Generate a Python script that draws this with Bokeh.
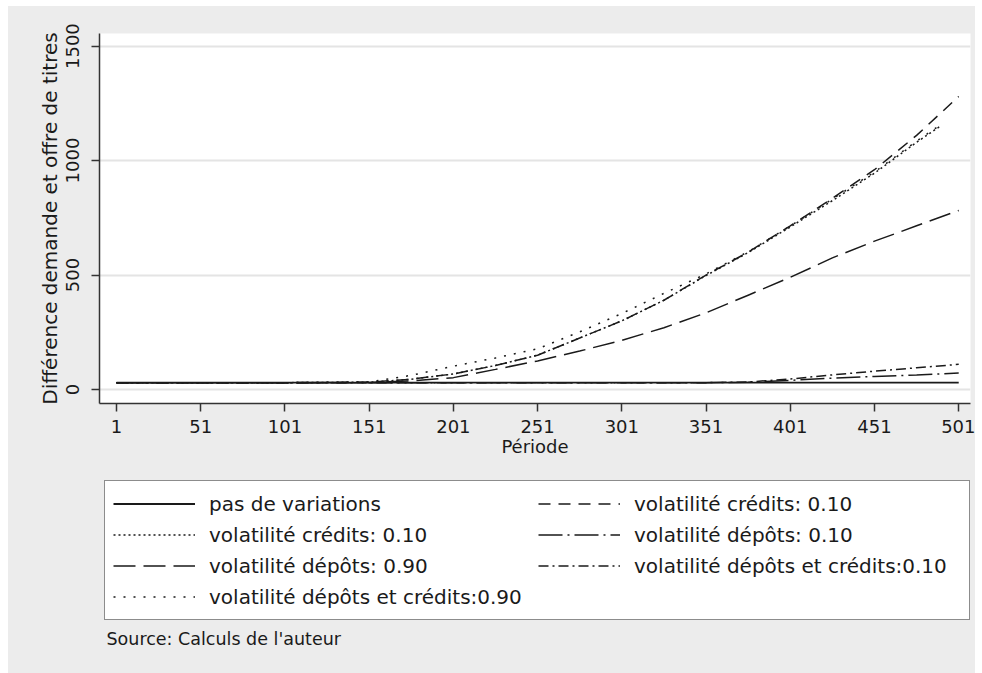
from bokeh.plotting import figure
from bokeh.layouts import column
from bokeh.models import Legend, LegendItem, Label, FixedTicker, Range1d
from bokeh.embed import file_html
from bokeh.resources import INLINE

# ---- data ----
periode = [1, 51, 101, 151, 176, 201, 226, 251, 276, 301, 326, 351, 376, 401, 426, 451, 476, 501]
periode_pts = [1, 51, 101, 151, 176, 201, 226, 251, 276, 301, 326, 351, 376, 401, 426, 451, 476, 490]

pas_de_variations = [30, 30, 30, 30, 30, 30, 30, 30, 30, 30, 30, 30, 30, 30, 30, 30, 30, 30]
credits_010_tirets = [30, 30, 30, 32, 45, 68, 105, 150, 225, 300, 390, 500, 600, 715, 835, 960, 1110, 1280]
credits_010_points = [30, 30, 30, 32, 45, 68, 105, 150, 225, 300, 390, 498, 598, 710, 825, 945, 1080, 1150]
depots_010 = [30, 30, 30, 30, 30, 30, 30, 30, 30, 30, 30, 30, 32, 40, 50, 57, 64, 72]
depots_090 = [30, 30, 30, 31, 38, 52, 88, 125, 168, 215, 270, 335, 412, 490, 575, 648, 715, 782]
dep_cred_010 = [30, 30, 30, 30, 30, 30, 30, 30, 30, 30, 30, 30, 33, 46, 64, 80, 95, 110]
dep_cred_090 = [30, 30, 30, 33, 62, 102, 138, 178, 252, 332, 420, 505, 602, 714, 832, 950, 1085, 1155]

x_ticks = [1, 51, 101, 151, 201, 251, 301, 351, 401, 451, 501]
y_ticks = [0, 500, 1000, 1500]

labels = [
    "pas de variations",
    "volatilité crédits: 0.10",
    "volatilité crédits: 0.10",
    "volatilité dépôts: 0.10",
    "volatilité dépôts: 0.90",
    "volatilité dépôts et crédits:0.10",
    "volatilité dépôts et crédits:0.90",
]
source_note = "Source: Calculs de l'auteur"

FONT = "DejaVu Sans"
BG = "#ececec"
INK = "#1a1a1a"

series = [
    (periode, pas_de_variations, 1.8, None),
    (periode, credits_010_tirets, 1.5, "12 8"),
    (periode_pts, credits_010_points, 1.5, "2 3"),
    (periode, depots_010, 1.5, "24 5 2 5"),
    (periode, depots_090, 1.5, "22 8"),
    (periode, dep_cred_010, 1.5, "10 4 2 4"),
    (periode_pts, dep_cred_090, 1.5, "2 8"),
]

# ---------------- chart ----------------
p = figure(width=967, height=462, output_backend="svg", toolbar_location=None,
           x_range=Range1d(-9.1, 508), y_range=Range1d(-61, 1555),
           min_border_left=91, min_border_right=5, min_border_top=27, min_border_bottom=65)
p.background_fill_color = "white"
p.border_fill_color = BG
p.outline_line_color = None

p.xgrid.visible = False
p.ygrid.ticker = FixedTicker(ticks=y_ticks)
p.ygrid.grid_line_color = "#e4e4e4"
p.ygrid.grid_line_width = 2

for ax in (p.xaxis[0], p.yaxis[0]):
    ax.axis_line_color = "#333333"
    ax.axis_line_width = 1.5
    ax.major_tick_line_color = "#333333"
    ax.major_tick_line_width = 1.5
    ax.major_tick_in = 0
    ax.major_tick_out = 8
    ax.minor_tick_line_color = None
    ax.major_label_text_font = FONT
    ax.major_label_text_font_size = "18px"
    ax.major_label_text_color = INK
    ax.axis_label_text_font = FONT
    ax.axis_label_text_font_style = "normal"
    ax.axis_label_text_color = INK

p.xaxis.ticker = FixedTicker(ticks=x_ticks)
p.yaxis.ticker = FixedTicker(ticks=y_ticks)
p.xaxis.axis_label = "Période"
p.xaxis.axis_label_text_font_size = "18px"
p.xaxis.axis_label_standoff = 0
p.xaxis.major_label_standoff = 8
p.yaxis.axis_label = "Différence demande et offre de titres"
p.yaxis.axis_label_text_font_size = "20px"
p.yaxis.axis_label_standoff = 2
p.yaxis.major_label_orientation = "vertical"
p.yaxis.major_label_standoff = 12

for xs, ys, w, dash in series:
    if dash is None:
        p.line(xs, ys, line_color=INK, line_width=w)
    else:
        p.line(xs, ys, line_color=INK, line_width=w, line_dash=dash)

# ---------------- legend + source note ----------------
q = figure(width=967, height=205, output_backend="svg", toolbar_location=None,
           x_range=Range1d(-2, -1), y_range=Range1d(-2, -1),
           min_border_left=91, min_border_right=5, min_border_top=0, min_border_bottom=0)
q.axis.visible = False
q.grid.visible = False
q.background_fill_color = BG
q.border_fill_color = BG
q.outline_line_color = None

proxies = []
for xs, ys, w, dash in series:
    if dash is None:
        proxies.append(q.line(xs, ys, line_color=INK, line_width=w))
    else:
        proxies.append(q.line(xs, ys, line_color=INK, line_width=w, line_dash=dash))

items = [LegendItem(label=lab, renderers=[r]) for lab, r in zip(labels, proxies)]
legend = Legend(items=items, orientation="horizontal", ncols=2,
                location=(5, 53),
                glyph_width=82, glyph_height=29, label_width=327, label_standoff=14,
                spacing=2, padding=8, margin=0,
                label_text_font=FONT, label_text_font_size="20px", label_text_color=INK,
                border_line_color=INK, border_line_width=1.5,
                background_fill_color="white", background_fill_alpha=1.0)
q.add_layout(legend, "center")

src = Label(x=7, y=35, x_units="screen", y_units="screen",
            text=source_note, text_font=FONT, text_font_size="17.5px",
            text_color=INK, text_baseline="middle", text_align="left")
q.add_layout(src)

layout = column(p, q, spacing=0, margin=(6, 0, 0, 8), styles={"background-color": BG})
open("out.html", "w").write(file_html(layout, INLINE))
